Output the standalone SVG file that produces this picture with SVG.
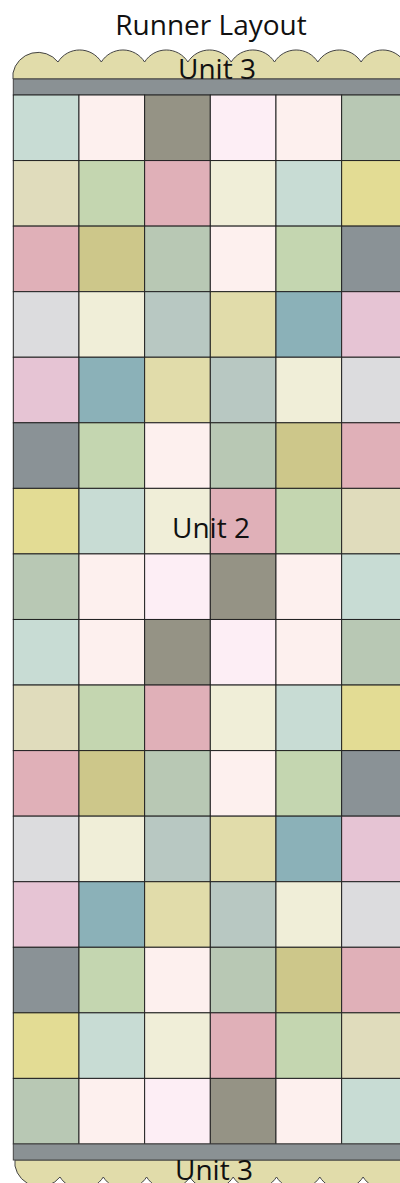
<svg xmlns="http://www.w3.org/2000/svg" width="400" height="1183" viewBox="0 0 400 1183">
<style>
rect.q{stroke:#222;stroke-width:1;width:65.67px;height:65.56px}
.a{fill:#C8DCD4}.b{fill:#FDF0EE}.t{fill:#959385}.p{fill:#FDEEF5}.s{fill:#B8C8B4}
.e{fill:#E0DCBC}.g{fill:#C4D6B0}.r{fill:#E0B0B8}.c{fill:#F0EED8}.y{fill:#E3DC94}
.o{fill:#CDC78A}.d{fill:#8A9296}.l{fill:#DCDCDE}.h{fill:#B8C8C2}.k{fill:#E1DCAA}
.u{fill:#8BB1B8}.m{fill:#E6C4D4}
.scal{fill:#E1DCAA;stroke:#444;stroke-width:1}
.bar{fill:#8A9194;stroke:#444;stroke-width:1}
.lbl{font-family:"Open Sans","Noto Sans",sans-serif;font-size:28px;fill:#111;text-anchor:middle}
</style>
<defs>
<g id="r1"><rect class="q a" x="13.3" y="0" width="65.67" height="65.56"/><rect class="q b" x="78.97" y="0" width="65.67" height="65.56"/><rect class="q t" x="144.64" y="0" width="65.67" height="65.56"/><rect class="q p" x="210.31" y="0" width="65.67" height="65.56"/><rect class="q b" x="275.98" y="0" width="65.67" height="65.56"/><rect class="q s" x="341.65" y="0" width="65.67" height="65.56"/></g>
<g id="r2"><rect class="q e" x="13.3" y="0" width="65.67" height="65.56"/><rect class="q g" x="78.97" y="0" width="65.67" height="65.56"/><rect class="q r" x="144.64" y="0" width="65.67" height="65.56"/><rect class="q c" x="210.31" y="0" width="65.67" height="65.56"/><rect class="q a" x="275.98" y="0" width="65.67" height="65.56"/><rect class="q y" x="341.65" y="0" width="65.67" height="65.56"/></g>
<g id="r3"><rect class="q r" x="13.3" y="0" width="65.67" height="65.56"/><rect class="q o" x="78.97" y="0" width="65.67" height="65.56"/><rect class="q s" x="144.64" y="0" width="65.67" height="65.56"/><rect class="q b" x="210.31" y="0" width="65.67" height="65.56"/><rect class="q g" x="275.98" y="0" width="65.67" height="65.56"/><rect class="q d" x="341.65" y="0" width="65.67" height="65.56"/></g>
<g id="r4"><rect class="q l" x="13.3" y="0" width="65.67" height="65.56"/><rect class="q c" x="78.97" y="0" width="65.67" height="65.56"/><rect class="q h" x="144.64" y="0" width="65.67" height="65.56"/><rect class="q k" x="210.31" y="0" width="65.67" height="65.56"/><rect class="q u" x="275.98" y="0" width="65.67" height="65.56"/><rect class="q m" x="341.65" y="0" width="65.67" height="65.56"/></g>
<g id="r5"><rect class="q m" x="13.3" y="0" width="65.67" height="65.56"/><rect class="q u" x="78.97" y="0" width="65.67" height="65.56"/><rect class="q k" x="144.64" y="0" width="65.67" height="65.56"/><rect class="q h" x="210.31" y="0" width="65.67" height="65.56"/><rect class="q c" x="275.98" y="0" width="65.67" height="65.56"/><rect class="q l" x="341.65" y="0" width="65.67" height="65.56"/></g>
<g id="r6"><rect class="q d" x="13.3" y="0" width="65.67" height="65.56"/><rect class="q g" x="78.97" y="0" width="65.67" height="65.56"/><rect class="q b" x="144.64" y="0" width="65.67" height="65.56"/><rect class="q s" x="210.31" y="0" width="65.67" height="65.56"/><rect class="q o" x="275.98" y="0" width="65.67" height="65.56"/><rect class="q r" x="341.65" y="0" width="65.67" height="65.56"/></g>
<g id="r7"><rect class="q y" x="13.3" y="0" width="65.67" height="65.56"/><rect class="q a" x="78.97" y="0" width="65.67" height="65.56"/><rect class="q c" x="144.64" y="0" width="65.67" height="65.56"/><rect class="q r" x="210.31" y="0" width="65.67" height="65.56"/><rect class="q g" x="275.98" y="0" width="65.67" height="65.56"/><rect class="q e" x="341.65" y="0" width="65.67" height="65.56"/></g>
<g id="r8"><rect class="q s" x="13.3" y="0" width="65.67" height="65.56"/><rect class="q b" x="78.97" y="0" width="65.67" height="65.56"/><rect class="q p" x="144.64" y="0" width="65.67" height="65.56"/><rect class="q t" x="210.31" y="0" width="65.67" height="65.56"/><rect class="q b" x="275.98" y="0" width="65.67" height="65.56"/><rect class="q a" x="341.65" y="0" width="65.67" height="65.56"/></g>
</defs>
<g id="title"><text class="lbl" x="211" y="35">Runner Layout</text></g>
<g id="unit3-top">
<path class="scal" d="M13,79 L13,73 A25.5,25.5 0 0 1 58,62 A25.5,25.5 0 0 1 101.3,62 A25.5,25.5 0 0 1 144.6,62 A25.5,25.5 0 0 1 187.9,62 A25.5,25.5 0 0 1 231.2,62 A25.5,25.5 0 0 1 274.5,62 A25.5,25.5 0 0 1 317.8,62 A25.5,25.5 0 0 1 361.1,62 A25.5,25.5 0 0 1 404.4,62 L404.4,79 Z"/>
<rect class="bar" x="13.3" y="79" width="400" height="16"/>
</g>
<g id="unit2">
<use href="#r1" y="95"/><use href="#r2" y="160.56"/><use href="#r3" y="226.12"/><use href="#r4" y="291.68"/>
<use href="#r5" y="357.24"/><use href="#r6" y="422.8"/><use href="#r7" y="488.36"/><use href="#r8" y="553.92"/>
<use href="#r1" y="619.48"/><use href="#r2" y="685.04"/><use href="#r3" y="750.6"/><use href="#r4" y="816.16"/>
<use href="#r5" y="881.72"/><use href="#r6" y="947.28"/><use href="#r7" y="1012.84"/><use href="#r8" y="1078.4"/>
</g>
<g id="unit3-bottom">
<path class="scal" d="M15,1160 L15,1166 A25.5,25.5 0 0 0 60,1177 A25.5,25.5 0 0 0 103.3,1177 A25.5,25.5 0 0 0 146.6,1177 A25.5,25.5 0 0 0 189.9,1177 A25.5,25.5 0 0 0 233.2,1177 A25.5,25.5 0 0 0 276.5,1177 A25.5,25.5 0 0 0 319.8,1177 A25.5,25.5 0 0 0 363.1,1177 A25.5,25.5 0 0 0 406.4,1177 L406.4,1160 Z"/>
<rect class="bar" x="13.3" y="1144" width="400" height="16"/>
</g>
<g id="labels">
<text class="lbl" x="217" y="79">Unit 3</text>
<text class="lbl" x="211" y="538">Unit 2</text>
<text class="lbl" x="214" y="1180">Unit 3</text>
</g>
</svg>
